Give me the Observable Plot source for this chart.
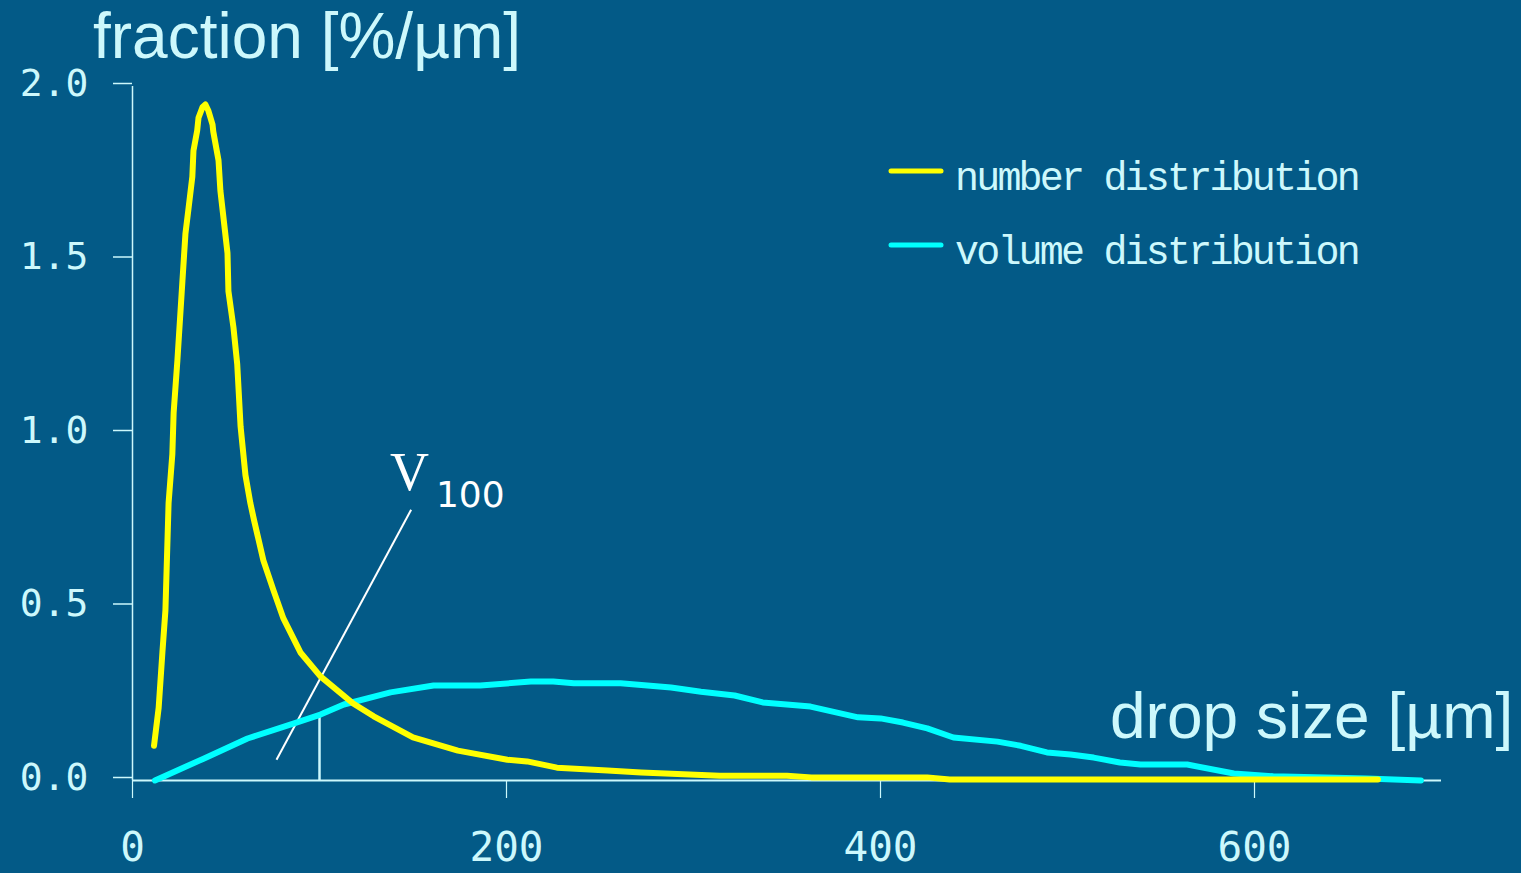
<!DOCTYPE html>
<html><head><meta charset="utf-8">
<script src="https://cdn.jsdelivr.net/npm/d3@7"></script>
<script src="https://cdn.jsdelivr.net/npm/@observablehq/plot@0.6"></script>
<style>html,body{margin:0;padding:0;background:#035a87;overflow:hidden}</style>
</head><body><div id="chart"></div>
<script>
// ---- data ----
const numberSize = [11.5,14,16,17.6,19.3,21.3,22,24,26.7,28.3,30,32,32.6,34.6,35.3,37.4,39,40.6,42.8,43.2,46,47,50.8,51.3,54,56,57.8,60.4,63,65,70,75.4,80.7,89.8,100.5,118,129,150,174,200.5,211,227,254,272,314,350,363,425,437,666];
const numberFraction = [0.10,0.21,0.37,0.49,0.80,0.94,1.06,1.21,1.44,1.575,1.65,1.74,1.815,1.873,1.91,1.94,1.948,1.93,1.89,1.87,1.787,1.70,1.52,1.41,1.305,1.20,1.02,0.88,0.80,0.75,0.634,0.548,0.467,0.369,0.30,0.222,0.185,0.124,0.086,0.06,0.055,0.037,0.029,0.023,0.014,0.014,0.009,0.009,0.003,0.003];
const volumeSize = [12,38,61.5,86,100.5,113,138,161,186,213,225,236,261,288,304,322,337,362.6,388,400,412,425,439,462.5,475,489,501.6,514,528,539,564,589,610,660,689];
const volumeFraction = [0,0.063,0.121,0.164,0.19,0.219,0.254,0.274,0.274,0.285,0.285,0.28,0.28,0.268,0.256,0.245,0.225,0.213,0.182,0.179,0.167,0.15,0.124,0.112,0.10,0.081,0.075,0.066,0.052,0.046,0.046,0.02,0.012,0.006,0];
const xTicks = [0,200,400,600];
const yTicks = [0,0.5,1.0,1.5,2.0];
const v100Value = [100];
const v100Top = [0.19];
const pointerX = [77,149];
const pointerY = [0.06,0.78];
const seriesNames = ["number distribution","volume distribution"];
const seriesColors = ["#ffff00","#00ffff"];
const yTitle = "fraction [%/µm]";
const xTitle = "drop size [µm]";
const vLabel = "V";
const vSub = "100";

// ---- build tables ----
const numberData = numberSize.map((x,i)=>({x, y:numberFraction[i]}));
const volumeData = volumeSize.map((x,i)=>({x, y:volumeFraction[i]}));
const pointer = [{x1:pointerX[0], y1:pointerY[0], x2:pointerX[1], y2:pointerY[1]}];

const BG = "#035a87";
const FG = "#cdf8fc";

function overlay(index, scales, values, dims) {
  const sx = (scales && scales.x) || d3.scaleLinear([0,700],[132,1441]);
  const sy = (scales && scales.y) || d3.scaleLinear([0,2],[780,86]);
  const g = d3.create("svg:g").attr("text-anchor","start");
  // axis titles
  g.append("text").attr("x",93).attr("y",58).attr("text-anchor","start")
    .attr("font-family","'Liberation Sans', Arial, sans-serif").attr("font-size",64)
    .attr("fill",FG).text(yTitle);
  g.append("text").attr("x",1110).attr("y",738).attr("text-anchor","start")
    .attr("font-family","'Liberation Sans', Arial, sans-serif").attr("font-size",64)
    .attr("fill",FG).text(xTitle);
  // legend
  seriesNames.forEach((name,i)=>{
    const yy = [171,245][i];
    g.append("line").attr("x1",891).attr("x2",941).attr("y1",yy).attr("y2",yy)
      .attr("stroke",seriesColors[i]).attr("stroke-width",5).attr("stroke-linecap","round");
    g.append("text").attr("x",955).attr("y",yy+19).attr("text-anchor","start")
      .attr("font-family","'Liberation Mono','Courier New',monospace").attr("font-size",40)
      .attr("letter-spacing",-2.8)
      .attr("fill",FG).text(name);
  });
  // V100 label
  g.append("text").attr("x",sx(138)).attr("y",sy(0.836)).attr("text-anchor","start")
    .attr("font-family","'Liberation Serif','Times New Roman',serif").attr("font-size",54)
    .attr("fill","#ffffff").text(vLabel);
  g.append("text").attr("x",sx(162.5)).attr("y",sy(0.787)).attr("text-anchor","start")
    .attr("font-family","'DejaVu Sans',sans-serif").attr("font-size",36)
    .attr("fill","#ffffff").text(vSub);
  return g.node();
}

const chart = Plot.plot({
  width: 1521,
  height: 873,
  marginLeft: 132,
  marginRight: 80,
  marginTop: 86,
  marginBottom: 93,
  style: {background: BG, color: FG, overflow: "visible"},
  x: {domain: [0,700], nice: false},
  y: {domain: [0,2], nice: false},
  marks: [
    Plot.axisY({ticks: yTicks, tickSize: 19, tickPadding: 25, tickFormat: d3.format(".1f"),
      fontSize: 38, fontFamily: "'DejaVu Sans Mono', monospace", dy: -3,
      stroke: FG, fill: FG, strokeWidth: 1.5, label: null}),
    Plot.axisX({ticks: xTicks, tickSize: 18, tickPadding: 33, tickFormat: d3.format("d"),
      fontSize: 41, fontFamily: "'DejaVu Sans Mono', monospace",
      stroke: FG, fill: FG, strokeWidth: 1.2, label: null}),
    Plot.ruleY([0], {x1: 0, x2: 700, stroke: FG, strokeWidth: 2}),
    Plot.ruleX([0], {y1: 0, y2: 2, stroke: FG, strokeWidth: 1.5}),
    Plot.ruleX(v100Value, {y1: 0, y2: v100Top, stroke: FG, strokeWidth: 2.5}),
    Plot.link(pointer, {x1:"x1", y1:"y1", x2:"x2", y2:"y2", stroke:"#ffffff", strokeWidth:2}),
    Plot.line(volumeData, {x:"x", y:"y", stroke: seriesColors[1], strokeWidth: 6, strokeLinejoin:"round", strokeLinecap:"round"}),
    Plot.line(numberData, {x:"x", y:"y", stroke: seriesColors[0], strokeWidth: 6, strokeLinejoin:"round", strokeLinecap:"round"}),
    overlay
  ]
});
document.getElementById("chart").appendChild(chart);
</script>
</body></html>
